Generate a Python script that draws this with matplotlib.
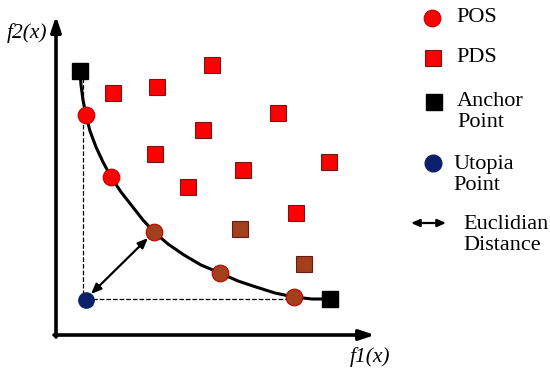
import matplotlib.pyplot as plt

# schematic, in pixel units (y grows downward)
anchor_x = [80, 330]
anchor_y = [71, 299]
utopia_x = [86]
utopia_y = [300]
pos_x = [86, 111, 154, 220, 294]
pos_y = [115, 177, 232, 273, 297]
pos_brown = [False, False, True, True, True]
pds_x = [113, 157, 212, 278, 203, 155, 243, 329, 188, 296, 240, 304]
pds_y = [93, 87, 65, 113, 130, 154, 170, 162, 187, 213, 229, 264]
pds_brown = [False] * 10 + [True, True]
curve_x = [80, 81, 83, 86, 90, 96, 103, 111, 121, 132, 143, 154, 168, 184, 201, 220, 238, 256, 275, 294, 312, 330]
curve_y = [71, 85, 100, 115, 131, 147, 162, 177, 192, 206, 220, 232, 244, 255, 265, 273, 281, 287, 293, 297, 299, 299]

legend_labels = ["POS", "PDS", "Anchor\nPoint", "Utopia\nPoint", "Euclidian\nDistance"]

RED = "#ff0000"
BROWN = "#a2401c"
NAVY = "#0b1f6b"

fig = plt.figure(figsize=(5.5, 3.74), dpi=100)
ax = fig.add_axes([0, 0, 1, 1])
ax.set_xlim(0, 550)
ax.set_ylim(374, 0)
ax.axis("off")

# axes with arrow heads
ax.annotate("", xy=(56, 16), xytext=(56, 337),
            arrowprops=dict(arrowstyle="-|>,head_length=0.9,head_width=0.3", lw=2.6, color="black",
                            shrinkA=0, shrinkB=0))
ax.annotate("", xy=(375, 335), xytext=(54, 335),
            arrowprops=dict(arrowstyle="-|>,head_length=0.9,head_width=0.3", lw=2.6, color="black",
                            shrinkA=0, shrinkB=0))
serif = ["Liberation Serif", "DejaVu Serif"]
ax.text(7, 33, "f2(x)", family=serif, style="italic", fontsize=15.5, va="center", ha="left")
ax.text(350, 357, "f1(x)", family=serif, style="italic", fontsize=15.5, va="center", ha="left")

# dashed guides
ax.plot([83, 83], [78, 300], ls="--", color="black", lw=0.9)
ax.plot([86, 294], [299, 299], ls="--", color="black", lw=0.9)

# pareto front curve
ax.plot(curve_x, curve_y, color="black", lw=2.2, zorder=2)

# euclidian distance
ax.annotate("", xy=(91, 294), xytext=(148, 238),
            arrowprops=dict(arrowstyle="<|-|>,head_length=0.6,head_width=0.25", lw=1.6, color="black",
                            shrinkA=0, shrinkB=0))

for x, y, b in zip(pds_x, pds_y, pds_brown):
    ax.plot(x, y, "s", ms=11, mfc=BROWN if b else RED, mec="#6b1a1a", mew=0.8, zorder=3)
for x, y, b in zip(pos_x, pos_y, pos_brown):
    ax.plot(x, y, "o", ms=12, mfc=BROWN if b else RED, mec="#c00000", mew=0.8, zorder=4)
ax.plot(anchor_x, anchor_y, "s", ms=11, mfc="black", mec="black", zorder=4)
ax.plot(utopia_x, utopia_y, "o", ms=11, mfc=NAVY, mec=NAVY, zorder=4)

# legend drawn by hand
ax.plot(432, 18, "o", ms=12, mfc=RED, mec="#c00000", mew=0.8)
ax.plot(433, 58, "s", ms=11, mfc=RED, mec="#6b1a1a", mew=0.8)
ax.plot(434, 102, "s", ms=11, mfc="black", mec="black")
ax.plot(433, 163, "o", ms=12, mfc=NAVY, mec=NAVY)
ax.annotate("", xy=(446, 223), xytext=(411, 223),
            arrowprops=dict(arrowstyle="<|-|>,head_length=0.5,head_width=0.22", lw=1.6, color="black",
                            shrinkA=0, shrinkB=0))
text_pos = [(456, 17), (456, 57), (457, 112), (453, 175), (463, 235)]
for (x, y), lab in zip(text_pos, legend_labels):
    ax.text(x, y, lab, family=serif, fontsize=16, va="center", ha="left", linespacing=1.2)

fig.savefig("out.png", dpi=100)
